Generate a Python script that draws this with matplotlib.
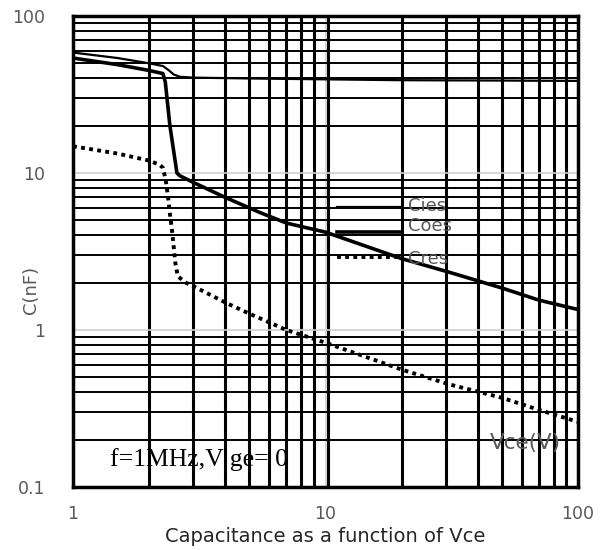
import matplotlib
matplotlib.use("Agg")
import matplotlib.pyplot as plt
from matplotlib.ticker import FixedLocator, NullFormatter

# Data
cies_v = [1, 1.5, 2, 2.27, 2.4, 2.5, 2.65, 3, 5, 10, 20, 50, 100]
cies_c = [58.5, 54, 50, 48, 45, 42.5, 41, 40.5, 40, 39.5, 39, 38.8, 38.6]

coes_v = [1, 1.5, 2, 2.27, 2.32, 2.42, 2.58, 2.65, 3, 4, 5.5, 7, 10, 20, 31, 50, 70, 100]
coes_c = [54, 49, 45, 43, 38, 20, 10, 9.6, 8.7, 7.0, 5.6, 4.8, 4.2, 2.85, 2.33, 1.85, 1.55, 1.35]

cres_v = [1, 1.5, 2, 2.2, 2.27, 2.33, 2.38, 2.42, 2.48, 2.54, 2.6, 2.8, 3, 4, 5, 7, 10, 15, 20, 31, 50, 70, 100]
cres_c = [14.8, 13.3, 12, 11.3, 10.8, 9, 7, 5.5, 4, 2.7, 2.2, 2.0, 1.9, 1.5, 1.27, 1.0, 0.83, 0.66, 0.56, 0.45, 0.37, 0.31, 0.26]

x_ticks = [1, 10, 100]
x_ticklabels = ["1", "10", "100"]
y_ticks = [0.1, 1, 10, 100]
y_ticklabels = ["0.1", "1", "10", "100"]

GRAY = "#595959"

fig = plt.figure(figsize=(6.11, 5.5), dpi=100)
ax = fig.add_axes([73/611, 1-487/550, (578-73)/611, (487-16)/550])
ax.set_xscale("log")
ax.set_yscale("log")
ax.set_xlim(1, 100)
ax.set_ylim(0.1, 100)

# grid
minor_x = [m * d for d in (1, 10) for m in range(2, 10)]
minor_y = [m * d for d in (0.1, 1, 10) for m in range(2, 10)]
ax.xaxis.set_minor_locator(FixedLocator(minor_x))
ax.yaxis.set_minor_locator(FixedLocator(minor_y))
ax.xaxis.set_minor_formatter(NullFormatter())
ax.yaxis.set_minor_formatter(NullFormatter())
ax.grid(which="minor", axis="x", color="black", lw=2.2)
ax.grid(which="minor", axis="y", color="black", lw=1.4)
ax.grid(which="major", color="#d0d0d0", lw=1.2)
ax.axvline(10.25, color="black", lw=2.2, zorder=0.5)
ax.set_axisbelow(True)

for s in ax.spines.values():
    s.set_linewidth(2.5)
    s.set_color("black")

ax.set_xticks(x_ticks)
ax.set_xticklabels(x_ticklabels)
ax.set_yticks(y_ticks)
ax.set_yticklabels(y_ticklabels)
ax.tick_params(which="both", length=0)
ax.tick_params(axis="x", pad=13, labelsize=12.5, labelcolor=GRAY)
ax.tick_params(axis="y", pad=20, labelsize=12.5, labelcolor=GRAY)

ax.plot(cies_v, cies_c, color="black", lw=1.6, zorder=3)
ax.plot(coes_v, coes_c, color="black", lw=2.6, zorder=3)
ax.plot(cres_v, cres_c, color="black", lw=2.8, linestyle=(0, (1, 1.1)), zorder=3)

# legend drawn manually
tr = ax.transAxes
def ax_xy(px, py):
    return ((px - 73) / 505, (487 - py) / 471)

x0, _ = ax_xy(337, 0)
x1, _ = ax_xy(400, 0)
for py, lw, ls in [(207, 1.6, "-"), (232, 2.6, "-"), (257, 2.8, (0, (1, 1.1)))]:
    _, yy = ax_xy(0, py)
    ax.plot([x0, x1], [yy, yy], transform=tr, color="black", lw=lw, linestyle=ls, zorder=4)

for txt, py in [("Cies", 206), ("Coes", 226), ("Cres", 259)]:
    xx, yy = ax_xy(408, py)
    ax.text(xx, yy, txt, transform=tr, color=GRAY, fontsize=13, va="center", ha="left", zorder=5)

xx, yy = ax_xy(110, 460)
ax.text(xx, yy, "f=1MHz,V ge= 0", transform=tr, fontsize=18.5, family="Liberation Serif",
        color="black", va="center", ha="left", zorder=5)
xx, yy = ax_xy(490, 443)
ax.text(xx, yy, "Vce(V)", transform=tr, fontsize=15.5, color=GRAY, va="center", ha="left", zorder=5)

ax.set_xlabel("Capacitance as a function of Vce", fontsize=14, color="#262626")
ax.xaxis.set_label_coords(0.5, -0.085)
ax.set_ylabel("C(nF)", fontsize=13, color=GRAY)
ax.yaxis.set_label_coords(-0.066, 0.418)

fig.savefig("out.png", dpi=100)
